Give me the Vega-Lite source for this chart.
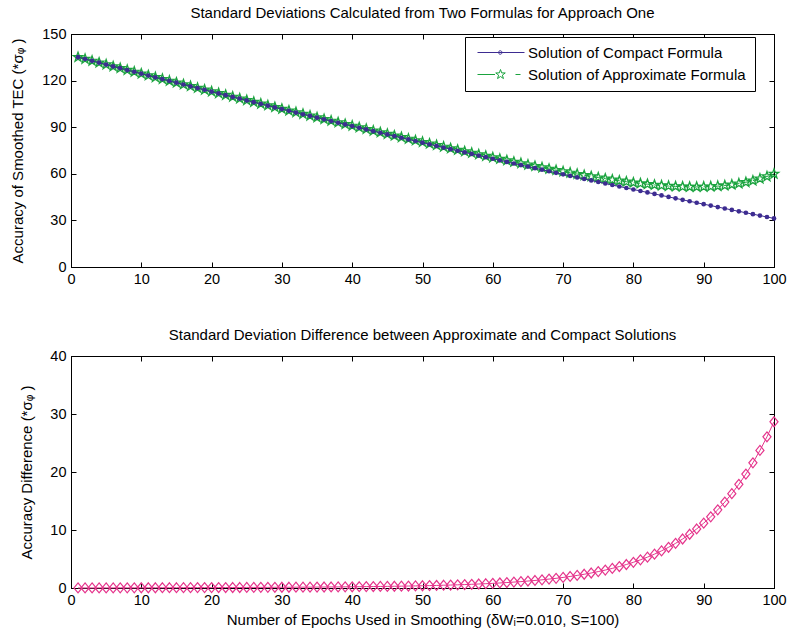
{
  "$schema": "https://vega.github.io/schema/vega-lite/v6.json",
  "background": "white",
  "padding": {"left": 10, "top": 5, "right": 10, "bottom": 5},
  "config": {
    "font": "Liberation Sans",
    "view": {"stroke": "black", "strokeWidth": 1},
    "axis": {"grid": false, "domainColor": "black", "domainWidth": 1, "tickColor": "black", "tickSize": -5, "tickWidth": 1, "labelPadding": 10, "labelFont": "Liberation Sans", "labelFontSize": 14.5, "labelColor": "black", "labelFlush": false, "labelOverlap": false, "titleFont": "Liberation Sans", "titleFontSize": 15, "titleFontWeight": "normal", "titleColor": "black"},
    "title": {"font": "Liberation Sans", "fontSize": 15, "fontWeight": "normal", "color": "black", "offset": 5},
    "legend": {"labelFont": "Liberation Sans", "labelFontSize": 15, "labelColor": "black", "labelLimit": 0}
  },
  "datasets": {
    "d": [
      {"x":1,"c":135.10,"a":135.11,"d":0.01},{"x":2,"c":133.91,"a":133.92,"d":0.01},{"x":3,"c":132.71,"a":132.72,"d":0.01},{"x":4,"c":131.52,"a":131.54,"d":0.02},{"x":5,"c":130.34,"a":130.36,"d":0.02},
      {"x":6,"c":129.15,"a":129.17,"d":0.02},{"x":7,"c":127.97,"a":128.00,"d":0.03},{"x":8,"c":126.80,"a":126.83,"d":0.03},{"x":9,"c":125.62,"a":125.65,"d":0.03},{"x":10,"c":124.45,"a":124.49,"d":0.04},
      {"x":11,"c":123.28,"a":123.32,"d":0.04},{"x":12,"c":122.12,"a":122.16,"d":0.04},{"x":13,"c":120.95,"a":121.00,"d":0.05},{"x":14,"c":119.79,"a":119.84,"d":0.05},{"x":15,"c":118.64,"a":118.69,"d":0.05},
      {"x":16,"c":117.48,"a":117.54,"d":0.06},{"x":17,"c":116.33,"a":116.39,"d":0.06},{"x":18,"c":115.19,"a":115.26,"d":0.07},{"x":19,"c":114.04,"a":114.11,"d":0.07},{"x":20,"c":112.90,"a":112.97,"d":0.07},
      {"x":21,"c":111.76,"a":111.84,"d":0.08},{"x":22,"c":110.63,"a":110.71,"d":0.08},{"x":23,"c":109.49,"a":109.58,"d":0.09},{"x":24,"c":108.36,"a":108.45,"d":0.09},{"x":25,"c":107.24,"a":107.34,"d":0.10},
      {"x":26,"c":106.11,"a":106.21,"d":0.10},{"x":27,"c":104.99,"a":105.10,"d":0.11},{"x":28,"c":103.88,"a":103.99,"d":0.11},{"x":29,"c":102.76,"a":102.88,"d":0.12},{"x":30,"c":101.65,"a":101.78,"d":0.13},
      {"x":31,"c":100.54,"a":100.67,"d":0.13},{"x":32,"c":99.44,"a":99.58,"d":0.14},{"x":33,"c":98.33,"a":98.48,"d":0.15},{"x":34,"c":97.23,"a":97.38,"d":0.15},{"x":35,"c":96.14,"a":96.30,"d":0.16},
      {"x":36,"c":95.04,"a":95.21,"d":0.17},{"x":37,"c":93.95,"a":94.13,"d":0.18},{"x":38,"c":92.87,"a":93.06,"d":0.19},{"x":39,"c":91.78,"a":91.98,"d":0.20},{"x":40,"c":90.70,"a":90.91,"d":0.21},
      {"x":41,"c":89.62,"a":89.84,"d":0.22},{"x":42,"c":88.55,"a":88.79,"d":0.24},{"x":43,"c":87.47,"a":87.72,"d":0.25},{"x":44,"c":86.40,"a":86.67,"d":0.27},{"x":45,"c":85.34,"a":85.62,"d":0.28},
      {"x":46,"c":84.27,"a":84.57,"d":0.30},{"x":47,"c":83.21,"a":83.53,"d":0.32},{"x":48,"c":82.16,"a":82.50,"d":0.34},{"x":49,"c":81.10,"a":81.46,"d":0.36},{"x":50,"c":80.05,"a":80.44,"d":0.39},
      {"x":51,"c":79.00,"a":79.41,"d":0.41},{"x":52,"c":77.96,"a":78.40,"d":0.44},{"x":53,"c":76.91,"a":77.39,"d":0.48},{"x":54,"c":75.87,"a":76.38,"d":0.51},{"x":55,"c":74.84,"a":75.39,"d":0.55},
      {"x":56,"c":73.80,"a":74.39,"d":0.59},{"x":57,"c":72.77,"a":73.41,"d":0.64},{"x":58,"c":71.75,"a":72.44,"d":0.69},{"x":59,"c":70.72,"a":71.46,"d":0.74},{"x":60,"c":69.70,"a":70.50,"d":0.80},
      {"x":61,"c":68.68,"a":69.55,"d":0.87},{"x":62,"c":67.67,"a":68.61,"d":0.94},{"x":63,"c":66.65,"a":67.67,"d":1.02},{"x":64,"c":65.64,"a":66.74,"d":1.10},{"x":65,"c":64.64,"a":65.84,"d":1.20},
      {"x":66,"c":63.63,"a":64.93,"d":1.30},{"x":67,"c":62.63,"a":64.04,"d":1.41},{"x":68,"c":61.64,"a":63.18,"d":1.54},{"x":69,"c":60.64,"a":62.31,"d":1.67},{"x":70,"c":59.65,"a":61.47,"d":1.82},
      {"x":71,"c":58.66,"a":60.65,"d":1.99},{"x":72,"c":57.68,"a":59.85,"d":2.17},{"x":73,"c":56.69,"a":59.06,"d":2.37},{"x":74,"c":55.71,"a":58.30,"d":2.59},{"x":75,"c":54.74,"a":57.57,"d":2.83},
      {"x":76,"c":53.76,"a":56.85,"d":3.09},{"x":77,"c":52.79,"a":56.17,"d":3.38},{"x":78,"c":51.83,"a":55.53,"d":3.70},{"x":79,"c":50.86,"a":54.91,"d":4.05},{"x":80,"c":49.90,"a":54.33,"d":4.43},
      {"x":81,"c":48.94,"a":53.80,"d":4.86},{"x":82,"c":47.99,"a":53.31,"d":5.32},{"x":83,"c":47.03,"a":52.87,"d":5.84},{"x":84,"c":46.08,"a":52.48,"d":6.40},{"x":85,"c":45.14,"a":52.16,"d":7.02},
      {"x":86,"c":44.19,"a":51.89,"d":7.70},{"x":87,"c":43.25,"a":51.70,"d":8.45},{"x":88,"c":42.32,"a":51.59,"d":9.27},{"x":89,"c":41.38,"a":51.56,"d":10.18},{"x":90,"c":40.45,"a":51.63,"d":11.18},
      {"x":91,"c":39.52,"a":51.79,"d":12.27},{"x":92,"c":38.60,"a":52.08,"d":13.48},{"x":93,"c":37.67,"a":52.48,"d":14.81},{"x":94,"c":36.75,"a":53.02,"d":16.27},{"x":95,"c":35.84,"a":53.71,"d":17.87},
      {"x":96,"c":34.92,"a":54.56,"d":19.64},{"x":97,"c":34.01,"a":55.59,"d":21.58},{"x":98,"c":33.11,"a":56.83,"d":23.72},{"x":99,"c":32.20,"a":58.27,"d":26.07},{"x":100,"c":31.30,"a":59.96,"d":28.66}
    ]
  },
  "spacing": 41,
  "resolve": {"scale": {"color": "independent", "shape": "independent"}, "legend": {"color": "independent", "shape": "independent"}},
  "vconcat": [
    {
      "width": 703,
      "height": 233,
      "title": {"text": "Standard Deviations Calculated from Two Formulas for Approach One"},
      "data": {"name": "d"},
      "resolve": {"axis": {"x": "independent", "y": "independent"}},
      "layer": [
        {
          "mark": {"type": "line", "color": "#1aa33e", "strokeWidth": 1, "strokeDash": [6, 4]},
          "encoding": {
            "x": {"field": "x", "type": "quantitative", "scale": {"domain": [0, 100], "nice": false}, "axis": {"orient": "top", "labels": false, "title": null, "values": [0,10,20,30,40,50,60,70,80,90,100]}},
            "y": {"field": "a", "type": "quantitative", "scale": {"domain": [0, 150], "nice": false}, "axis": {"orient": "right", "labels": false, "title": null, "values": [0,30,60,90,120,150]}}
          }
        },
        {
          "mark": {"type": "point", "color": "#1aa33e", "filled": false, "opacity": 1, "strokeWidth": 1.3, "size": 100, "shape": "M0,-1L0.235,-0.324L0.951,-0.309L0.38,0.124L0.588,0.809L0,0.4L-0.588,0.809L-0.38,0.124L-0.951,-0.309L-0.235,-0.324Z"},
          "encoding": {
            "x": {"field": "x", "type": "quantitative", "axis": null},
            "y": {"field": "a", "type": "quantitative", "axis": null}
          }
        },
        {
          "mark": {"type": "line", "color": "#3d2c91", "strokeWidth": 1},
          "encoding": {
            "x": {"field": "x", "type": "quantitative", "axis": {"orient": "bottom", "title": null, "values": [0,10,20,30,40,50,60,70,80,90,100]}},
            "y": {"field": "c", "type": "quantitative", "axis": {"orient": "left", "title": "Accuracy of Smoothed TEC (*σᵩ )", "titlePadding": 16, "values": [0,30,60,90,120,150]}}
          }
        },
        {
          "mark": {"type": "point", "color": "#3d2c91", "filled": true, "opacity": 1, "size": 22, "shape": "circle"},
          "encoding": {
            "x": {"field": "x", "type": "quantitative", "axis": null},
            "y": {"field": "c", "type": "quantitative", "axis": null}
          }
        },
        {
          "transform": [{"filter": "false"}],
          "mark": {"type": "point", "filled": false, "opacity": 1, "strokeWidth": 1},
          "encoding": {
            "x": {"field": "x", "type": "quantitative", "axis": null},
            "y": {"field": "c", "type": "quantitative", "axis": null},
            "color": {"field": "s", "type": "nominal", "scale": {"domain": ["Solution of Compact Formula", "Solution of Approximate Formula"], "range": ["#3d2c91", "#1aa33e"]}, "legend": {"orient": "none", "legendX": 394, "legendY": 3, "title": null, "strokeColor": "black", "fillColor": "white", "padding": 8, "symbolSize": 100, "symbolStrokeWidth": 1, "labelOffset": 40, "rowPadding": 6, "labelLimit": 0}},
            "shape": {"field": "s", "type": "nominal", "scale": {"domain": ["Solution of Compact Formula", "Solution of Approximate Formula"], "range": ["M-0.6,0H8.8M4.3,0A0.35,0.35 0 1,1 3.6,0A0.35,0.35 0 1,1 4.3,0Z", "M-0.6,0H2.9M7,0H8M4,-1L4.235,-0.324L4.951,-0.309L4.38,0.124L4.588,0.809L4,0.4L3.412,0.809L3.62,0.124L3.049,-0.309L3.765,-0.324Z"]}, "legend": {"orient": "none", "legendX": 394, "legendY": 3, "title": null, "strokeColor": "black", "fillColor": "white", "padding": 8, "symbolSize": 100, "symbolStrokeWidth": 1, "labelOffset": 40, "rowPadding": 6, "labelLimit": 0}}
          }
        }
      ]
    },
    {
      "width": 703,
      "height": 232,
      "title": {"text": "Standard Deviation Difference between Approximate and Compact Solutions"},
      "data": {"name": "d"},
      "resolve": {"axis": {"x": "independent", "y": "independent"}},
      "layer": [
        {
          "mark": {"type": "line", "color": "#e5358c", "strokeWidth": 1},
          "encoding": {
            "x": {"field": "x", "type": "quantitative", "scale": {"domain": [0, 100], "nice": false}, "axis": {"orient": "bottom", "title": "Number of Epochs Used in Smoothing (δWᵢ=0.010, S=100)", "titlePadding": 6, "values": [0,10,20,30,40,50,60,70,80,90,100]}},
            "y": {"field": "d", "type": "quantitative", "scale": {"domain": [0, 40], "nice": false}, "axis": {"orient": "left", "title": "Accuracy Difference (*σᵩ )", "titlePadding": 15, "values": [0,10,20,30,40]}}
          }
        },
        {
          "mark": {"type": "point", "color": "#e5358c", "filled": false, "opacity": 1, "strokeWidth": 1.2, "size": 81, "shape": "M0,-1.1L0.9,0L0,1.1L-0.9,0Z"},
          "encoding": {
            "x": {"field": "x", "type": "quantitative", "axis": {"orient": "top", "labels": false, "title": null, "values": [0,10,20,30,40,50,60,70,80,90,100]}},
            "y": {"field": "d", "type": "quantitative", "axis": {"orient": "right", "labels": false, "title": null, "values": [0,10,20,30,40]}}
          }
        }
      ]
    }
  ]
}
